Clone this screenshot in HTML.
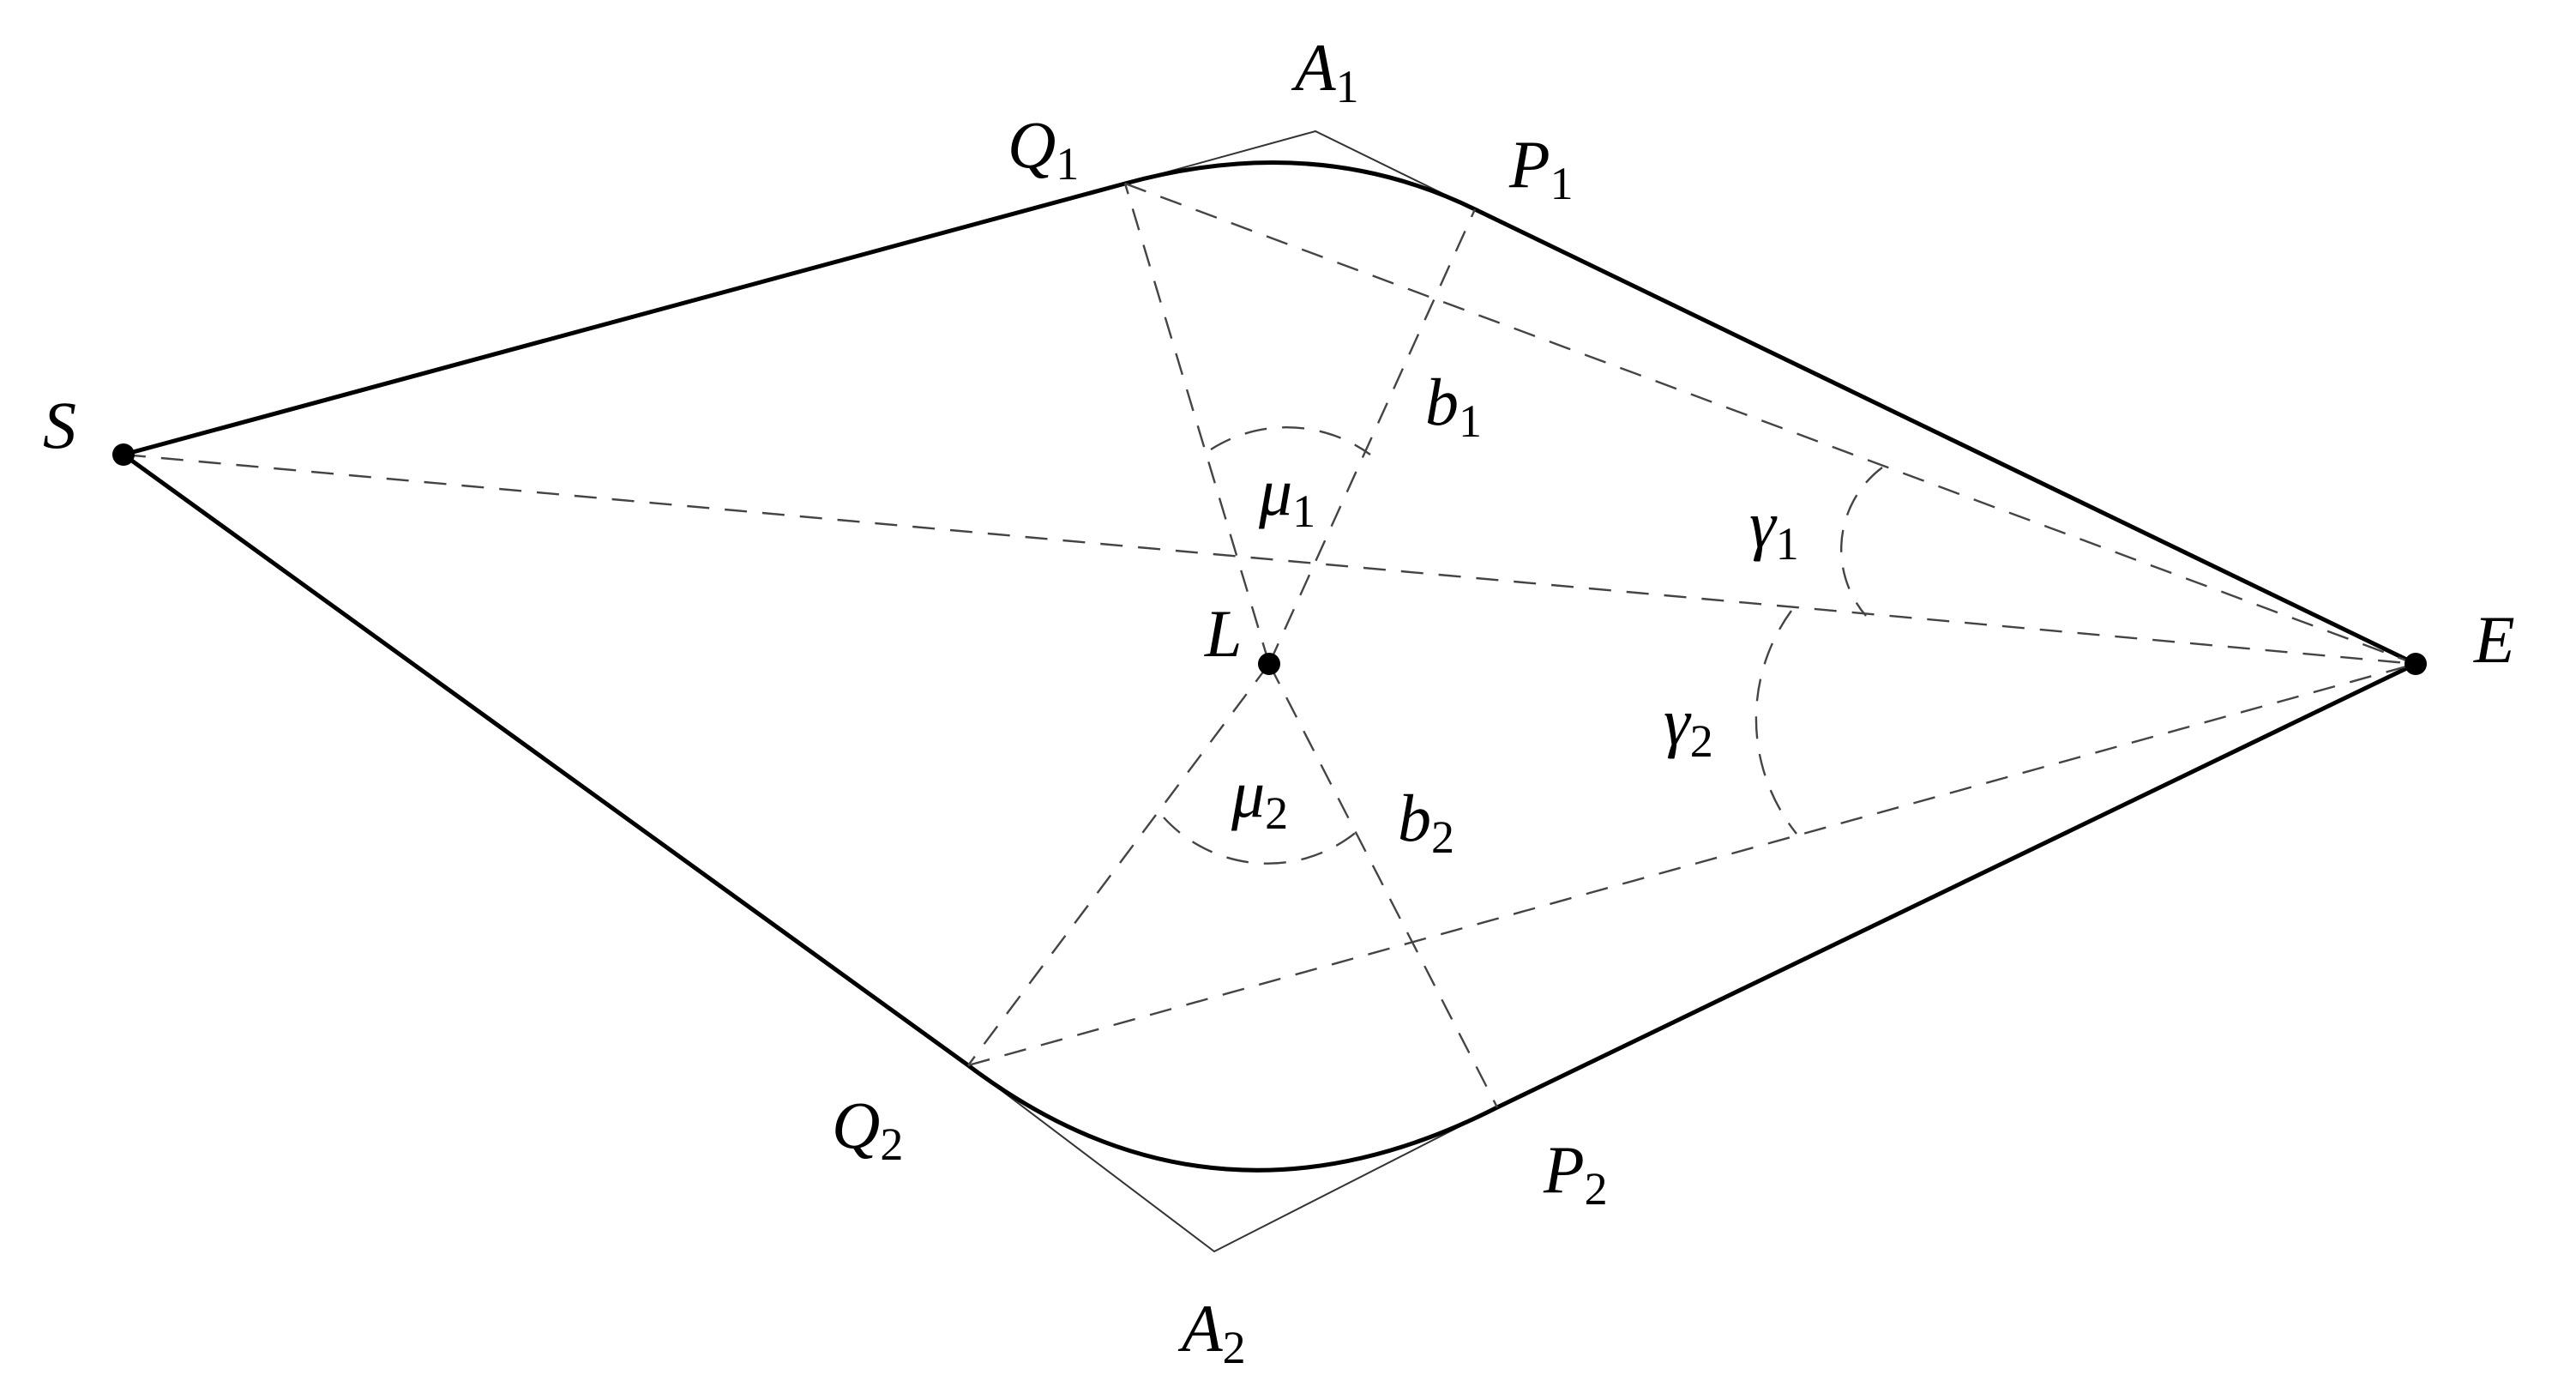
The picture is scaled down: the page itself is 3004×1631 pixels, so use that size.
<!DOCTYPE html>
<html><head><style>
html,body{margin:0;padding:0;background:#fff;}
svg{display:block;}
text{font-family:"Liberation Serif",serif;font-style:italic;font-size:78px;fill:#000;}
.s{font-style:normal;font-size:54px;}
</style></head><body>
<svg width="3004" height="1631" viewBox="0 0 3004 1631" xmlns="http://www.w3.org/2000/svg">
<g fill="none" stroke="#333" stroke-width="2">
<polyline points="1312,214 1534,153 1720,244"/>
<polyline points="1129,1242 1416,1459 1746,1291"/>
</g>
<g fill="none" stroke="#000" stroke-width="5" stroke-linejoin="round">
<path d="M144,530 L1312,214 Q1534,153 1720,244 L2817,774 L1746,1291 Q1416,1459 1129,1242 Z"/>
</g>
<g fill="none" stroke="#444" stroke-width="2.4" stroke-dasharray="26,18">
<line x1="144" y1="530" x2="2817" y2="774"/>
<line x1="1312" y1="214" x2="2817" y2="774"/>
<line x1="1129" y1="1242" x2="2817" y2="774"/>
<line x1="1480" y1="774" x2="1312" y2="214"/>
<line x1="1480" y1="774" x2="1720" y2="244"/>
<line x1="1480" y1="774" x2="1129" y2="1242"/>
<line x1="1480" y1="774" x2="1746" y2="1291"/>
<path d="M1412,524 A165,165 0 0 1 1598,530"/>
<path d="M1357,953 A164,164 0 0 0 1583,969"/>
<path d="M2195,545 A119,119 0 0 0 2176,718"/>
<path d="M2089,712 A214,214 0 0 0 2095,972"/>
</g>
<g fill="#000">
<circle cx="144" cy="530" r="13"/>
<circle cx="2817" cy="774" r="13"/>
<circle cx="1480" cy="774" r="13"/>
</g>
<text x="1510" y="105">A<tspan class="s" dy="14">1</tspan></text>
<text x="1175" y="195">Q<tspan class="s" dy="14">1</tspan></text>
<text x="1760" y="218">P<tspan class="s" dy="14">1</tspan></text>
<text x="50" y="522">S</text>
<text x="2885" y="772">E</text>
<text x="1405" y="765">L</text>
<text x="1662" y="495">b<tspan class="s" dy="14">1</tspan></text>
<text x="1468" y="600">μ<tspan class="s" dy="14">1</tspan></text>
<text x="2040" y="638">γ<tspan class="s" dy="14">1</tspan></text>
<text x="1940" y="868">γ<tspan class="s" dy="14">2</tspan></text>
<text x="1436" y="952">μ<tspan class="s" dy="14">2</tspan></text>
<text x="1630" y="980">b<tspan class="s" dy="14">2</tspan></text>
<text x="970" y="1338">Q<tspan class="s" dy="14">2</tspan></text>
<text x="1800" y="1390">P<tspan class="s" dy="14">2</tspan></text>
<text x="1378" y="1575">A<tspan class="s" dy="14">2</tspan></text>
</svg>
</body></html>
